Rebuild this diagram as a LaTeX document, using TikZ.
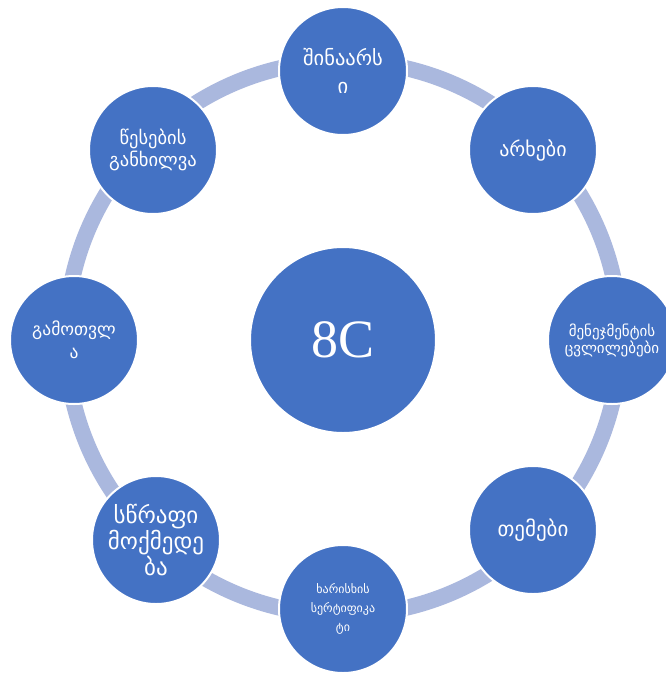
\documentclass[tikz,border=0pt]{standalone}
\usepackage{fontspec}
\newfontfamily\geo{DejaVu Sans}
\newfontfamily\hubfont{Liberation Serif}
\definecolor{discblue}{RGB}{68,114,196}
\definecolor{ringblue}{RGB}{170,184,222}
\begin{document}
\begin{tikzpicture}[x=1pt,y=-1pt,
  ring/.style={draw=ringblue,line width=16pt},
  disc/.style={circle,fill=discblue,draw=white,line width=2pt,
    minimum size=128pt,inner sep=0pt,text=white,align=center},
  hubdisc/.style={disc,minimum size=186pt},
  lbl/.style 2 args={font=\fontsize{#1}{#2}\selectfont\geo}]
  \clip (0,0) rectangle (666,673);
  \fill[white] (0,0) rectangle (666,673);

  % track behind all discs
  \coordinate (ctr) at (343,338);
  \draw[ring] (ctr) circle (277);

  % central hub
  \node[hubdisc,font=\fontsize{54}{60}\selectfont\hubfont] (hub) at (343,340) {8C};

  % outer discs, clockwise from the top
  \node[disc,lbl={20.5}{28}] (content)  at (343,71)  {შინაარს\\ი};
  \node[disc,lbl={20}{24}]   (channels) at (533,150) {არხები};
  \node[disc,lbl={15}{17}]   (mgmt)     at (612,340) {მენეჯმენტის\\ცვლილებები};
  \node[disc,lbl={21}{24}]   (themes)   at (533,530) {თემები};
  \node[disc,lbl={12}{19}]   (quality)  at (343,609) {ხარისხის\\სერტიფიკა\\ტი};
  \node[disc,lbl={23}{26}]   (action)   at (156,540) {სწრაფი\\მოქმედე\\ბა};
  \node[disc,lbl={17.5}{23}] (calc)     at (74,340)  {გამოთვლ\\ა};
  \node[disc,lbl={18.5}{22}] (rules)    at (153,150) {წესების\\განხილვა};
\end{tikzpicture}
\end{document}
